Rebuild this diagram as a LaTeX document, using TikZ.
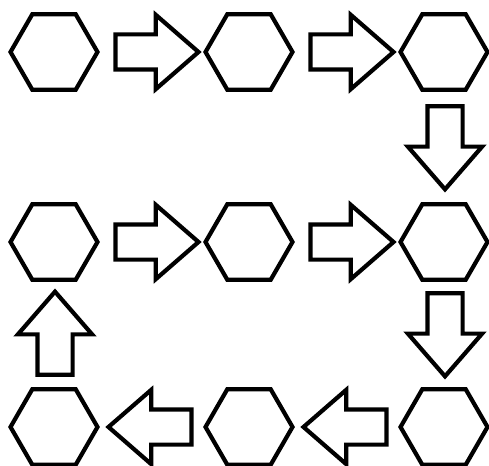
\documentclass[tikz,border=0pt]{standalone}
\usetikzlibrary{positioning, calc, shapes.geometric, shapes.arrows}
\begin{document}
\begin{tikzpicture}[x=1pt, y=-1pt]
  \def\R{87}\def\AL{83}\def\SW{15.5}
  \tikzset{
    hexa/.style={draw=black, fill=white, line width=4.2pt, regular polygon, regular polygon sides=6,
      minimum size=\R pt, inner sep=0pt, outer sep=0pt},
    blockarr/.style={draw=black, fill=white, line width=4.2pt, single arrow, single arrow head extend=19.5pt,
      single arrow tip angle=82, single arrow head indent=0pt, minimum height=\AL pt,
      inner xsep=0pt, inner ysep=\SW pt, outer sep=0pt, line join=miter, anchor=tip},
  }
  \useasboundingbox (0,0) rectangle (489,465);
  %% hexagons: rows top / middle / bottom, columns left / middle / right
  \foreach \n/\x/\y in {tl/54/52, tm/249/52, tr/444/52,
                        ml/54/242, mm/249/242, mr/444/242,
                        bl/54/427, bm/249/427, br/444/427}
    \node[hexa] (h\n) at (\x,\y) {};
  %% top row, to the right and down
  \node[blockarr] (atr1) at ($(htm.west)+(-7,0)$) {};
  \node[blockarr] (atr2) at ($(htr.west)+(-7,0)$) {};
  \node[blockarr, rotate=-90] (adn1) at ($(hmr.north)+(1,-15)$) {};
  %% middle row
  \node[blockarr] (amr1) at ($(hmm.west)+(-7,0)$) {};
  \node[blockarr] (amr2) at ($(hmr.west)+(-7,0)$) {};
  \node[blockarr, rotate=-90] (adn2) at ($(hbr.north)+(1,-13)$) {};
  %% bottom row, back to the left and up
  \node[blockarr, rotate=180] (abl1) at ($(hbm.east)+(11,0)$) {};
  \node[blockarr, rotate=180] (abl2) at ($(hbl.east)+(11,0)$) {};
  \node[blockarr, rotate=90] (aup) at ($(hml.south)+(1,12)$) {};
\end{tikzpicture}
\end{document}
